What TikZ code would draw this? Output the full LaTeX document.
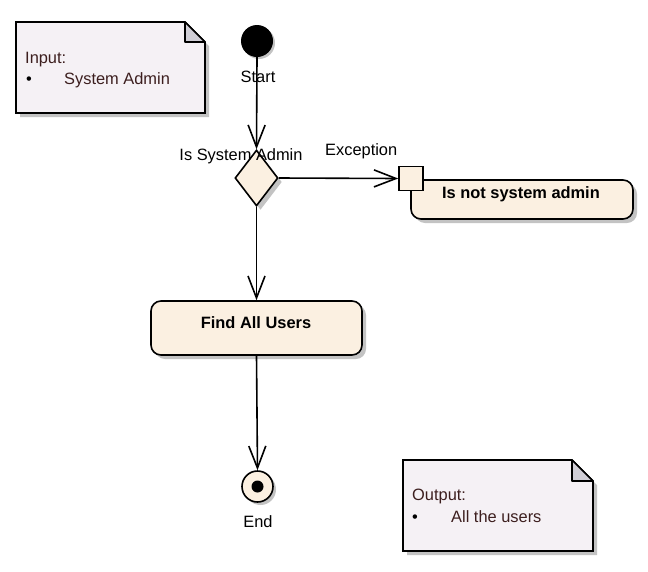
\documentclass[tikz,border=0pt]{standalone}
\usepackage{fontspec}
\setmainfont{Liberation Sans}
\usetikzlibrary{arrows.meta,shapes.geometric,shadows}
\definecolor{notefill}{RGB}{245,241,245}
\definecolor{foldfill}{RGB}{208,206,214}
\definecolor{actfill}{RGB}{251,240,225}
\definecolor{shadowc}{RGB}{195,195,195}
\definecolor{notetext}{RGB}{60,30,30}
\begin{document}
\begin{tikzpicture}[x=1pt,y=-1pt,
  txt/.style={font=\fontsize{16.4pt}{19pt}\selectfont, inner sep=0pt, anchor=base},
  btxt/.style={txt, font=\fontsize{16.4pt}{19pt}\selectfont\bfseries},
  ntxt/.style={txt, anchor=base west, text=notetext},
  flow/.style={line width=1.6pt, -{Straight Barb[length=22pt,width=17pt,line width=1.6pt]}},
  sh/.style={general shadow={fill=shadowc, shadow xshift=4pt, shadow yshift=-4pt}},
  actionbox/.style={draw, line width=1.6pt, fill=actfill, rounded corners=10pt, sh, inner sep=0pt},
  notebody/.style={draw, line width=1.6pt, fill=notefill},
  foldst/.style={draw, line width=1.6pt, fill=foldfill, line join=round}]
\useasboundingbox (0,0) rectangle (648,571);

% Input note
\fill[shadowc] (20,26) -- (189,26) -- (209,46) -- (209,117) -- (20,117) -- cycle;
\draw[notebody] (16,22) -- (185,22) -- (205,42) -- (205,113) -- (16,113) -- cycle;
\draw[foldst] (185,22) -- (185,42) -- (205,42) -- cycle;
\node[ntxt] (inlbl) at (25,63) {Input:};
\node[ntxt, text=black] (inbul) at (26,84) {\textbullet};
\node[ntxt] (initem) at (64,84) {System Admin};

% Output note
\fill[shadowc] (407,464) -- (576,464) -- (597,485) -- (597,555) -- (407,555) -- cycle;
\draw[notebody] (403,460) -- (572,460) -- (593,481) -- (593,551) -- (403,551) -- cycle;
\draw[foldst] (572,460) -- (572,481) -- (593,481) -- cycle;
\node[ntxt] (outlbl) at (412,500) {Output:};
\node[ntxt, text=black] (outbul) at (412,522) {\textbullet};
\node[ntxt] (outitem) at (451,522) {All the users};

% Start
\node[circle, fill=black, minimum size=32pt, inner sep=0pt,
      general shadow={fill=shadowc, shadow xshift=2pt, shadow yshift=-2pt}] (start) at (257,41) {};
\node[txt] (startlbl) at (258,82) {Start};

% Decision
\node[diamond, draw, line width=1.6pt, fill=actfill, minimum width=43pt, minimum height=56pt,
      inner sep=0pt, aspect=0.77, general shadow={fill=shadowc, shadow xshift=4pt, shadow yshift=-4pt}] (dec) at (256.5,178) {};
\node[txt] (declbl) at (241,160) {Is System Admin};

% Exception action
\node[actionbox, minimum width=222pt, minimum height=39pt] (notadmin) at (522,199.5) {};
\node[btxt] (notadmintxt) at (521,198) {Is not system admin};
\node[draw, line width=1.6pt, fill=actfill, minimum size=24pt, inner sep=0pt] (pin) at (411,178.5) {};
\node[txt, anchor=base west] (exclbl) at (325,155) {Exception};

% Find All Users
\node[actionbox, minimum width=211pt, minimum height=54pt] (find) at (256.5,328) {};
\node[btxt] (findtxt) at (256,328) {Find All Users};

% End
\node[circle, draw, line width=1.6pt, fill=actfill, minimum size=31pt, inner sep=0pt,
      general shadow={fill=shadowc, shadow xshift=3pt, shadow yshift=-3pt}] (end) at (257.5,486.5) {};
\node[circle, fill=black, minimum size=12pt, inner sep=0pt] (enddot) at (end.center) {};
\node[txt] (endlbl) at (258,527) {End};

% Flows
\draw[flow] (start.south) -- (dec.north);
\draw[flow] (dec.east) -- (pin.west);
\draw[flow] (dec.south) -- (find.north);
\draw[flow] (find.south) -- (end.north);
\end{tikzpicture}
\end{document}
